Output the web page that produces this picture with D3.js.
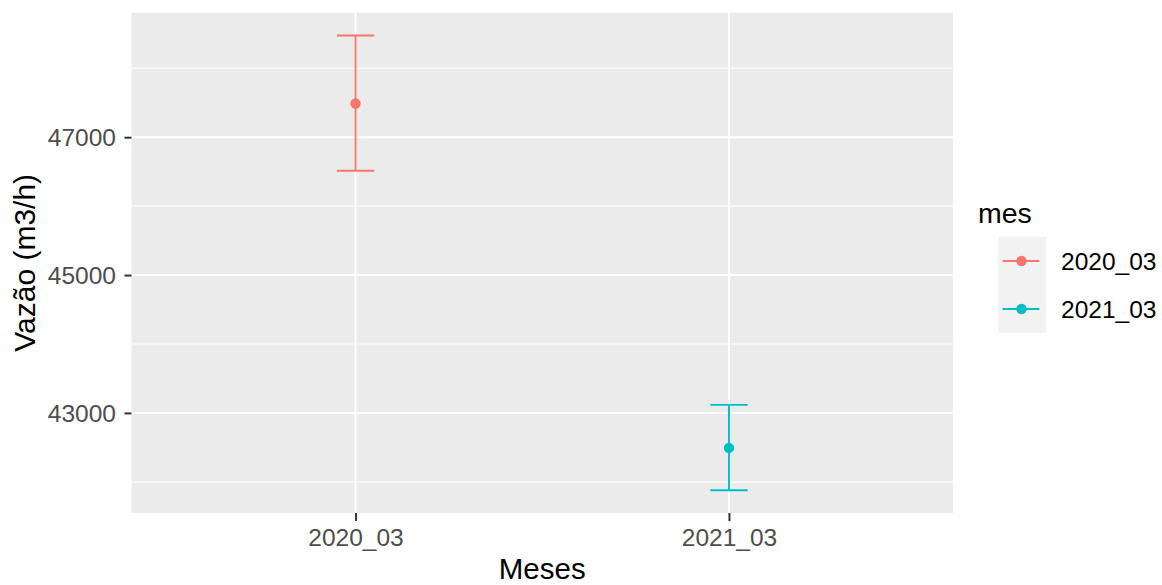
<!DOCTYPE html>
<html>
<head>
<meta charset="utf-8">
<script src="https://cdn.jsdelivr.net/npm/d3@7"></script>
<style>
  html, body { margin: 0; padding: 0; background: #fff; }
  svg { display: block; font-family: "Liberation Sans", Arial, sans-serif; }
</style>
</head>
<body>
<svg id="chart" width="1162" height="585"></svg>
<script>
// ---- data ----
const categories = ["2020_03", "2021_03"];
const means = [47489, 42492];
const lower = [46512, 41878];
const upper = [48476, 43116];
const colors = ["#F8766D", "#00BFC4"];
const yTicks = [43000, 45000, 47000];
const yMinorTicks = [42000, 44000, 46000, 48000];
const xTitle = "Meses";
const yTitle = "Vazão (m3/h)";
const legendTitle = "mes";

// ---- layout ----
const svg = d3.select("#chart");
const panel = { left: 131.5, right: 953, top: 12.7, bottom: 513 };

const dmin = d3.min(lower), dmax = d3.max(upper);
const pad = (dmax - dmin) * 0.05;
const y = d3.scaleLinear().domain([dmin - pad, dmax + pad]).range([panel.bottom, panel.top]);

// discrete x with ggplot-like 0.6 expansion
const xIdx = d3.scaleLinear().domain([1 - 0.6, categories.length + 0.6]).range([panel.left, panel.right]);
const x = c => xIdx(categories.indexOf(c) + 1);
const unit = xIdx(1) - xIdx(0);

// panel background
svg.append("rect")
  .attr("x", panel.left).attr("y", panel.top)
  .attr("width", panel.right - panel.left).attr("height", panel.bottom - panel.top)
  .attr("fill", "#EBEBEB");

const grid = svg.append("g");
grid.selectAll("line.minor").data(yMinorTicks).join("line")
  .attr("x1", panel.left).attr("x2", panel.right)
  .attr("y1", d => y(d)).attr("y2", d => y(d))
  .attr("stroke", "#fff").attr("stroke-width", 1.2);
grid.selectAll("line.major").data(yTicks).join("line")
  .attr("x1", panel.left).attr("x2", panel.right)
  .attr("y1", d => y(d)).attr("y2", d => y(d))
  .attr("stroke", "#fff").attr("stroke-width", 2);
grid.selectAll("line.vmajor").data(categories).join("line")
  .attr("x1", d => x(d)).attr("x2", d => x(d))
  .attr("y1", panel.top).attr("y2", panel.bottom)
  .attr("stroke", "#fff").attr("stroke-width", 2);

// axes
const yAxis = d3.axisLeft(y).tickValues(yTicks).tickSize(7).tickPadding(8.5).tickFormat(d3.format("d"));
const gy = svg.append("g").attr("transform", `translate(${panel.left},0)`).call(yAxis);
gy.select(".domain").remove();
gy.selectAll(".tick line").attr("stroke", "#333").attr("stroke-width", 2);
gy.selectAll(".tick text").attr("fill", "#4D4D4D").attr("font-size", 24.5)
  .attr("font-family", "Liberation Sans, Arial, sans-serif").attr("dy", "0.35em");

const xBand = d3.scaleOrdinal().domain(categories).range(categories.map(c => x(c)));
const xAxis = d3.axisBottom(xBand).tickSize(8).tickPadding(8);
const gx = svg.append("g").attr("transform", `translate(0,${panel.bottom})`).call(xAxis);
gx.select(".domain").remove();
gx.selectAll(".tick line").attr("stroke", "#333").attr("stroke-width", 2);
gx.selectAll(".tick text").attr("fill", "#4D4D4D").attr("font-size", 24.5)
  .attr("font-family", "Liberation Sans, Arial, sans-serif");

// error bars
const eb = svg.append("g");
categories.forEach((c, i) => {
  const cx = x(c), hw = unit * 0.05;
  eb.append("line").attr("x1", cx).attr("x2", cx).attr("y1", y(upper[i])).attr("y2", y(lower[i]))
    .attr("stroke", colors[i]).attr("stroke-width", 1.9);
  eb.append("line").attr("x1", cx - hw).attr("x2", cx + hw).attr("y1", y(upper[i])).attr("y2", y(upper[i]))
    .attr("stroke", colors[i]).attr("stroke-width", 1.9);
  eb.append("line").attr("x1", cx - hw).attr("x2", cx + hw).attr("y1", y(lower[i])).attr("y2", y(lower[i]))
    .attr("stroke", colors[i]).attr("stroke-width", 1.9);
  eb.append("circle").attr("cx", cx).attr("cy", y(means[i])).attr("r", 5.2).attr("fill", colors[i]);
});

// axis titles
svg.append("text").attr("x", (panel.left + panel.right) / 2).attr("y", 579)
  .attr("text-anchor", "middle").attr("font-size", 29.5).attr("fill", "#000").text(xTitle);
svg.append("text")
  .attr("transform", `translate(35,${(panel.top + panel.bottom) / 2}) rotate(-90)`)
  .attr("text-anchor", "middle").attr("font-size", 30).attr("fill", "#000").text(yTitle);

// legend
const lg = svg.append("g");
lg.append("text").attr("x", 978).attr("y", 223).attr("font-size", 28.5).attr("fill", "#000").text(legendTitle);
const keyX = 998, keyY = 237, keyS = 48;
categories.forEach((c, i) => {
  const ky = keyY + i * keyS;
  lg.append("rect").attr("x", keyX).attr("y", ky).attr("width", keyS).attr("height", keyS).attr("fill", "#F2F2F2");
});
categories.forEach((c, i) => {
  const cy = keyY + i * keyS + keyS / 2;
  lg.append("line").attr("x1", keyX + 4.5).attr("x2", keyX + keyS - 6.5).attr("y1", cy).attr("y2", cy)
    .attr("stroke", colors[i]).attr("stroke-width", 1.9);
  lg.append("circle").attr("cx", keyX + 23.5).attr("cy", cy).attr("r", 5.2).attr("fill", colors[i]);
  lg.append("text").attr("x", 1061).attr("y", cy).attr("dy", "0.35em")
    .attr("font-size", 24.5).attr("fill", "#000").text(c);
});
</script>
</body>
</html>
